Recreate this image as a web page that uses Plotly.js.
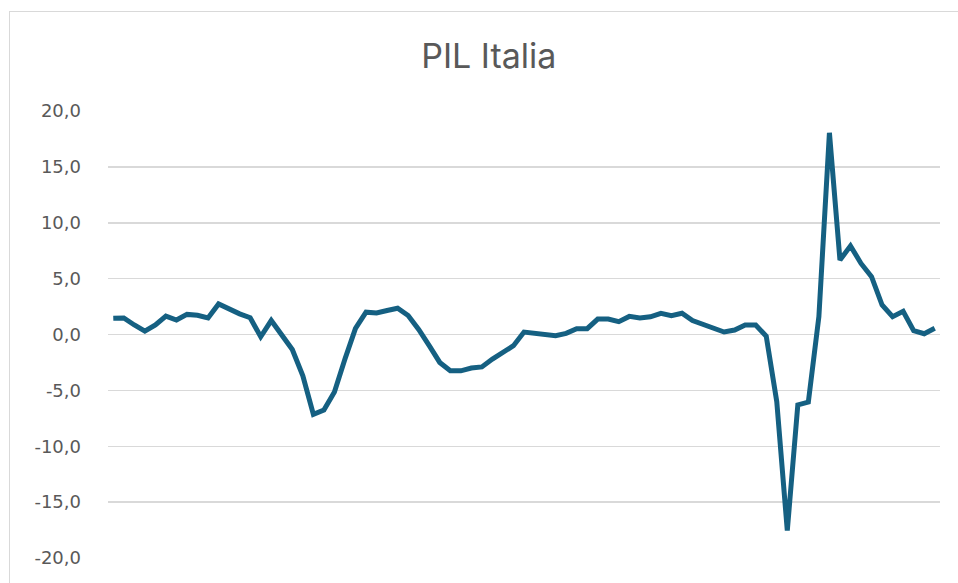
<!DOCTYPE html>
<html>
<head>
<meta charset="utf-8">
<script src="https://cdn.plot.ly/plotly-3.0.1.min.js"></script>
<style>
  html, body { margin: 0; padding: 0; background: #ffffff; overflow: hidden; }
  #frame {
    position: absolute; left: 9px; top: 11px;
    width: 950px; height: 600px;
    border: 1px solid #d9d9d9; background: #ffffff;
  }
  #chart { width: 950px; height: 600px; }
</style>
</head>
<body>
<div id="frame"><div id="chart"></div></div>
<script>
// Quarterly periods, 2004 T2 – 2023 T4
const periods = [
  "2004 T2","2004 T3","2004 T4",
  "2005 T1","2005 T2","2005 T3","2005 T4",
  "2006 T1","2006 T2","2006 T3","2006 T4",
  "2007 T1","2007 T2","2007 T3","2007 T4",
  "2008 T1","2008 T2","2008 T3","2008 T4",
  "2009 T1","2009 T2","2009 T3","2009 T4",
  "2010 T1","2010 T2","2010 T3","2010 T4",
  "2011 T1","2011 T2","2011 T3","2011 T4",
  "2012 T1","2012 T2","2012 T3","2012 T4",
  "2013 T1","2013 T2","2013 T3","2013 T4",
  "2014 T1","2014 T2","2014 T3","2014 T4",
  "2015 T1","2015 T2","2015 T3","2015 T4",
  "2016 T1","2016 T2","2016 T3","2016 T4",
  "2017 T1","2017 T2","2017 T3","2017 T4",
  "2018 T1","2018 T2","2018 T3","2018 T4",
  "2019 T1","2019 T2","2019 T3","2019 T4",
  "2020 T1","2020 T2","2020 T3","2020 T4",
  "2021 T1","2021 T2","2021 T3","2021 T4",
  "2022 T1","2022 T2","2022 T3","2022 T4",
  "2023 T1","2023 T2","2023 T3","2023 T4"
];

// GDP growth, % change on the same quarter of the previous year
const pilGrowth = [
  1.45, 1.48, 0.85, 0.30, 0.85, 1.65, 1.30, 1.80, 1.72, 1.48,
  2.73, 2.25, 1.85, 1.50, -0.20, 1.25, 0.00, -1.35, -3.70, -7.15,
  -6.75, -5.15, -2.20, 0.55, 2.00, 1.92, 2.15, 2.35, 1.70, 0.45,
  -1.00, -2.50, -3.25, -3.25, -3.00, -2.90, -2.20, -1.55, -1.00, 0.22,
  0.15, 0.05, -0.10, 0.10, 0.52, 0.52, 1.38, 1.38, 1.15, 1.62,
  1.47, 1.58, 1.90, 1.68, 1.90, 1.25, 0.87, 0.55, 0.22, 0.40,
  0.85, 0.85, -0.15, -6.00, -17.55, -6.30, -6.05, 1.60, 18.05, 6.66,
  7.93, 6.36, 5.17, 2.64, 1.60, 2.07, 0.34, 0.07, 0.55
];

const yTicks = [-20, -15, -10, -5, 0, 5, 10, 15, 20];
const yTickLabels = ["-20,0", "-15,0", "-10,0", "-5,0", "0,0", "5,0", "10,0", "15,0", "20,0"];

const titleFont = "Inter, 'Open Sans', 'Liberation Sans', sans-serif";
const tickFont = "'DejaVu Sans', 'Open Sans', sans-serif";

const trace = {
  type: "scatter",
  mode: "lines",
  x: periods,
  y: pilGrowth,
  line: { color: "#156082", width: 5, shape: "linear" },
  hoverinfo: "x+y"
};

const layout = {
  width: 950,
  height: 600,
  margin: { l: 98, r: 20, t: 99, b: 54 },
  paper_bgcolor: "#ffffff",
  plot_bgcolor: "#ffffff",
  showlegend: false,
  title: {
    text: "PIL Italia",
    x: 0.504, xanchor: "center", xref: "container",
    y: 0.927, yanchor: "middle", yref: "container",
    font: { family: titleFont, size: 34, color: "#595959" }
  },
  xaxis: {
    type: "category",
    showticklabels: false,
    ticks: "",
    showgrid: false,
    zeroline: false,
    showline: false,
    range: [-0.5, periods.length - 0.5]
  },
  yaxis: {
    range: [-20, 20],
    tickvals: yTicks,
    ticktext: yTickLabels,
    ticks: "",
    ticklabelstandoff: 26,
    showgrid: true,
    gridcolor: "#d9d9d9",
    gridwidth: 1.5,
    zeroline: false,
    showline: false,
    tickfont: { family: tickFont, size: 18, color: "#595959" }
  }
};

Plotly.newPlot("chart", [trace], layout, { displayModeBar: false, staticPlot: true });
</script>
</body>
</html>
